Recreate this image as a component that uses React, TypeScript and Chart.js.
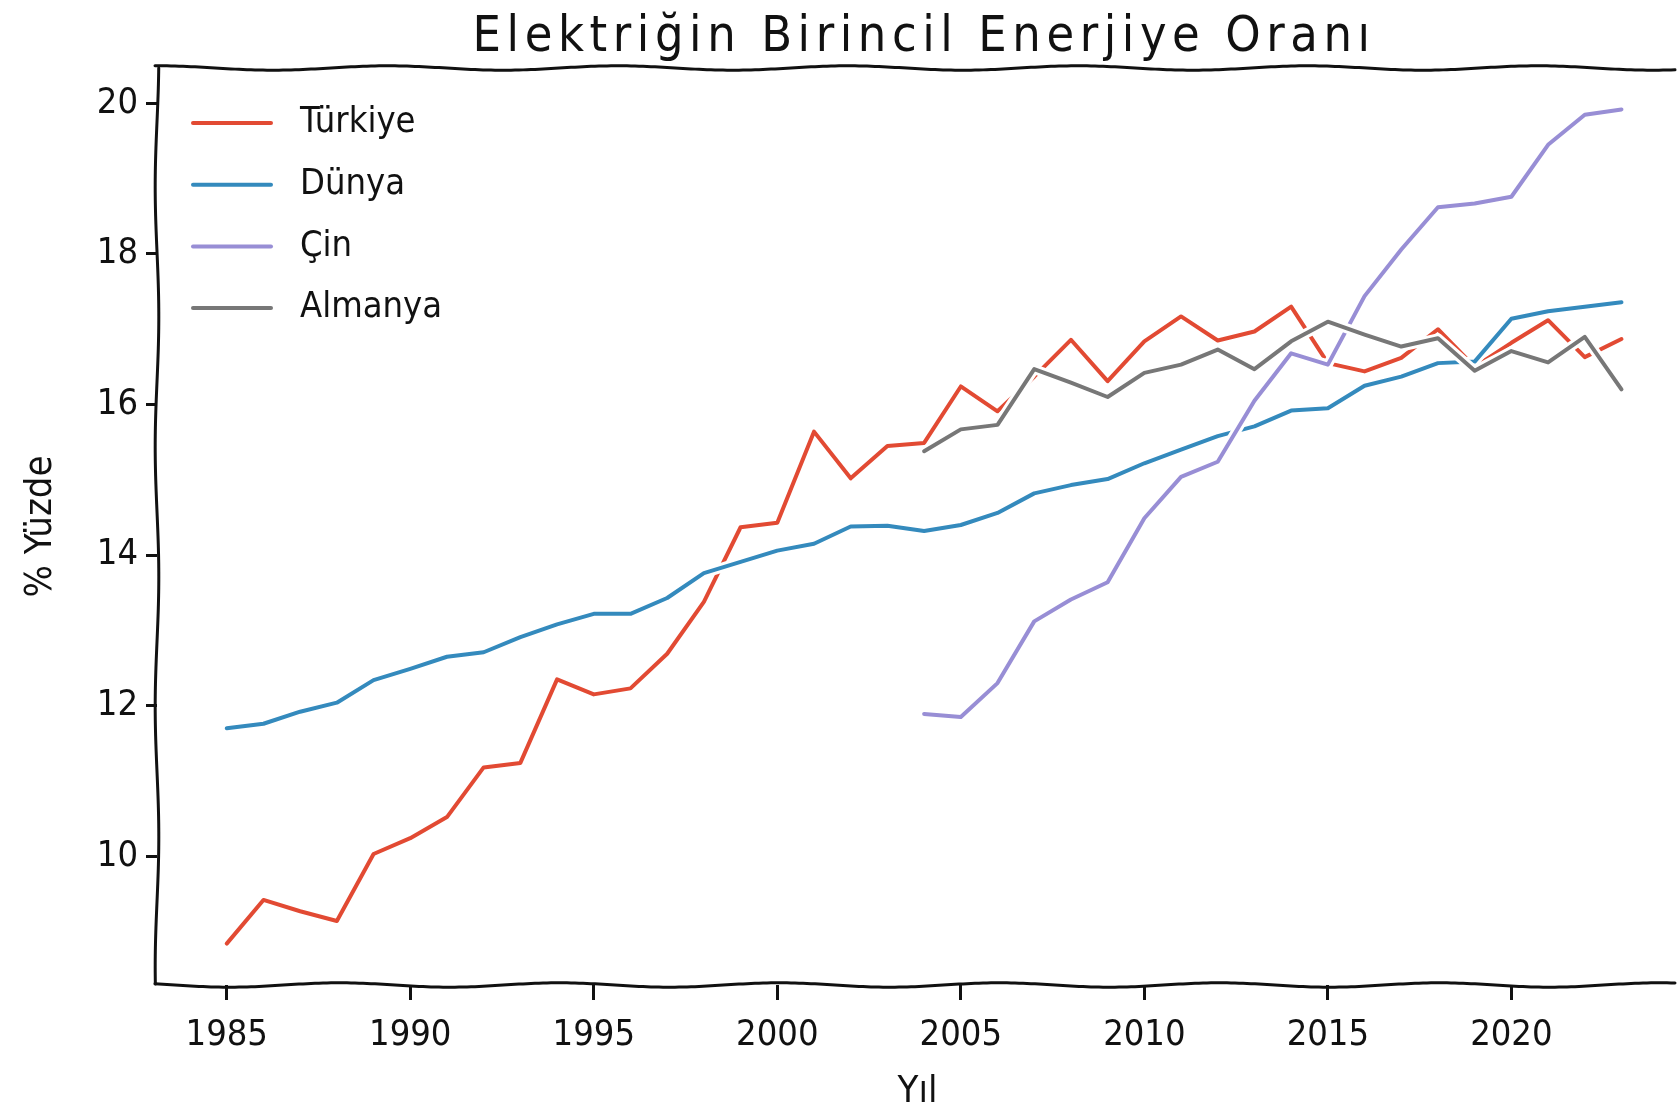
import { useEffect, useRef } from "react";
import { Chart, registerables } from "chart.js";

Chart.register(...registerables);

// ---------------- data ----------------
const years = [
  1985, 1986, 1987, 1988, 1989, 1990, 1991, 1992, 1993, 1994,
  1995, 1996, 1997, 1998, 1999, 2000, 2001, 2002, 2003, 2004,
  2005, 2006, 2007, 2008, 2009, 2010, 2011, 2012, 2013, 2014,
  2015, 2016, 2017, 2018, 2019, 2020, 2021, 2022, 2023,
];

const turkiye = [
  8.84, 9.42, 9.27, 9.14, 10.03, 10.24, 10.52, 11.18, 11.24, 12.35,
  12.15, 12.23, 12.69, 13.38, 14.37, 14.43, 15.64, 15.02, 15.45, 15.49,
  16.24, 15.91, 16.37, 16.86, 16.31, 16.84, 17.17, 16.85, 16.97, 17.3,
  16.55, 16.44, 16.62, 17.0, 16.5, 16.82, 17.12, 16.63, 16.87,
];

const dunya = [
  11.7, 11.76, 11.92, 12.04, 12.34, 12.49, 12.65, 12.71, 12.91, 13.08,
  13.22, 13.22, 13.43, 13.76, 13.91, 14.06, 14.15, 14.38, 14.39, 14.32,
  14.4, 14.56, 14.82, 14.93, 15.01, 15.22, 15.4, 15.58, 15.71, 15.92,
  15.95, 16.25, 16.37, 16.55, 16.57, 17.14, 17.24, 17.3, 17.36,
];

const cin = [
  null, null, null, null, null, null, null, null, null, null,
  null, null, null, null, null, null, null, null, null, 11.89,
  11.85, 12.3, 13.12, 13.41, 13.64, 14.49, 15.04, 15.24, 16.05, 16.68,
  16.53, 17.44, 18.06, 18.62, 18.67, 18.76, 19.45, 19.85, 19.92,
];

const almanya = [
  null, null, null, null, null, null, null, null, null, null,
  null, null, null, null, null, null, null, null, null, 15.38,
  15.67, 15.73, 16.47, 16.29, 16.1, 16.42, 16.53, 16.73, 16.47, 16.84,
  17.1, 16.93, 16.77, 16.88, 16.45, 16.71, 16.56, 16.9, 16.2,
];

const seriesNames = ["Türkiye", "Dünya", "Çin", "Almanya"];
const seriesValues = [turkiye, dunya, cin, almanya];
const seriesColors = ["#E24A33", "#348ABD", "#988ED5", "#777777"];

const chartTitle = "Elektriğin Birincil Enerjiye Oranı";
const xTitle = "Yıl";
const yTitle = "% Yüzde";
const xTickStep = 5;
const yTickStep = 2;

// ---------------- styling ----------------
const W = 1678;
const H = 1111;
const FONT = "'DejaVu Sans Condensed', 'DejaVu Sans', sans-serif";

function wobbleH(ctx: CanvasRenderingContext2D, x1: number, x2: number, y: number, amp: number, wl: number, ph: number) {
  ctx.beginPath();
  for (let x = x1; x <= x2; x += 4) {
    const yy = y + amp * Math.sin((2 * Math.PI * x) / wl + ph);
    if (x === x1) ctx.moveTo(x, yy);
    else ctx.lineTo(x, yy);
  }
  ctx.stroke();
}
function wobbleV(ctx: CanvasRenderingContext2D, y1: number, y2: number, x: number, amp: number, wl: number, ph: number) {
  ctx.beginPath();
  for (let y = y1; y <= y2; y += 4) {
    const xx = x + amp * Math.sin((2 * Math.PI * y) / wl + ph);
    if (y === y1) ctx.moveTo(xx, y);
    else ctx.lineTo(xx, y);
  }
  ctx.stroke();
}

const outlinePlugin = {
  id: "whiteOutline",
  beforeDatasetDraw(chart: any, args: any) {
    const ctx = chart.ctx as CanvasRenderingContext2D;
    const ds = chart.data.datasets[args.index];
    ctx.save();
    ctx.beginPath();
    let pen = false;
    args.meta.data.forEach((pt: any, i: number) => {
      const v = ds.data[i].y;
      if (v === null || v === undefined) {
        pen = false;
        return;
      }
      if (!pen) {
        ctx.moveTo(pt.x, pt.y);
        pen = true;
      } else ctx.lineTo(pt.x, pt.y);
    });
    ctx.strokeStyle = "#ffffff";
    ctx.lineWidth = 10;
    ctx.lineJoin = "round";
    ctx.lineCap = "round";
    ctx.stroke();
    ctx.restore();
  },
};

const decorPlugin = {
  id: "decor",
  afterDraw(chart: any) {
    const ctx = chart.ctx as CanvasRenderingContext2D;
    const { left, right, top, bottom } = chart.chartArea;
    const xs = chart.scales.x;

    // sketchy spines
    ctx.save();
    ctx.strokeStyle = "#111";
    ctx.lineWidth = 3;
    ctx.lineJoin = "round";
    ctx.lineCap = "round";
    wobbleH(ctx, left - 2, right, top, 2.2, 230, 0.4);
    wobbleH(ctx, left - 2, right, bottom, 2.2, 220, 1.3);
    wobbleV(ctx, top, bottom, left, 1.8, 260, 0.2);
    ctx.restore();

    // title centred over the axes
    ctx.save();
    const cx = xs.getPixelForValue((xs.min + 2024.9) / 2);
    ctx.font = `50px ${FONT}`;
    ctx.fillStyle = "#111";
    ctx.textBaseline = "alphabetic";
    const base = ctx.measureText(chartTitle).width;
    const n = chartTitle.length;
    const ls = Math.max(0, (903 - base) / n);
    (ctx as any).letterSpacing = `${ls}px`;
    const wdt = ctx.measureText(chartTitle).width;
    ctx.textAlign = "left";
    ctx.fillText(chartTitle, cx - wdt / 2, 51);
    ctx.restore();

    // legend
    ctx.save();
    ctx.font = `36px ${FONT}`;
    ctx.textBaseline = "middle";
    ctx.textAlign = "left";
    seriesNames.forEach((name, i) => {
      const y = top + 55 + i * 61.7;
      ctx.strokeStyle = seriesColors[i];
      ctx.lineWidth = 4;
      ctx.lineCap = "round";
      ctx.beginPath();
      ctx.moveTo(left + 36, y);
      ctx.lineTo(left + 114, y);
      ctx.stroke();
      ctx.fillStyle = "#111";
      ctx.fillText(name, left + 143, y);
    });
    ctx.restore();
  },
};

export default function App() {
  const ref = useRef<HTMLCanvasElement | null>(null);

  useEffect(() => {
    if (!ref.current) return;
    const datasets = seriesNames.map((name, i) => ({
      label: name,
      data: years.map((yr, j) => ({ x: yr, y: seriesValues[i][j] })),
      borderColor: seriesColors[i],
      backgroundColor: seriesColors[i],
      borderWidth: 4,
      pointRadius: 0,
      pointHoverRadius: 0,
      tension: 0,
      spanGaps: false,
      borderJoinStyle: "round" as const,
      borderCapStyle: "round" as const,
      order: seriesNames.length - i,
    }));

    const chart = new Chart(ref.current, {
      type: "line",
      data: { datasets },
      options: {
        animation: false,
        responsive: false,
        devicePixelRatio: 1,
        layout: { padding: { top: 68, left: 0, right: 0, bottom: 0 } },
        plugins: {
          legend: { display: false },
          title: { display: false },
          tooltip: { enabled: false },
        },
        scales: {
          x: {
            type: "linear",
            min: 1983.1,
            max: 2024.54,
            afterFit: (s: any) => {
              s.height = 126;
            },
            border: { display: false },
            grid: {
              display: true,
              drawOnChartArea: false,
              drawTicks: true,
              tickLength: 15,
              tickColor: "#111",
              tickWidth: 3,
            },
            ticks: {
              stepSize: xTickStep,
              includeBounds: false,
              maxRotation: 0,
              autoSkip: false,
              padding: 14,
              color: "#111",
              font: { family: FONT, size: 36 },
              callback: (v: any) => String(v),
            },
            title: {
              display: true,
              text: xTitle,
              color: "#111",
              font: { family: FONT, size: 38, lineHeight: 1 },
              padding: { top: 0, bottom: 0 },
            },
          },
          y: {
            type: "linear",
            min: 8.29,
            max: 20.47,
            afterFit: (s: any) => {
              s.width = 157;
            },
            border: { display: false },
            grid: {
              display: true,
              drawOnChartArea: false,
              drawTicks: true,
              tickLength: 11,
              tickColor: "#111",
              tickWidth: 3,
            },
            ticks: {
              stepSize: yTickStep,
              includeBounds: false,
              padding: 8,
              color: "#111",
              font: { family: FONT, size: 36 },
              callback: (v: any) => String(v),
            },
            title: {
              display: true,
              text: yTitle,
              color: "#111",
              font: { family: FONT, size: 38, lineHeight: 1.2 },
              padding: { top: 18, bottom: 0 },
            },
          },
        },
      },
      plugins: [outlinePlugin, decorPlugin],
    });
    return () => chart.destroy();
  }, []);

  return (
    <div style={{ position: "fixed", left: 0, top: 0, width: W, height: H, background: "#fff", overflow: "hidden" }}>
      <canvas ref={ref} width={W} height={H} style={{ width: W, height: H, display: "block" }} />
    </div>
  );
}
